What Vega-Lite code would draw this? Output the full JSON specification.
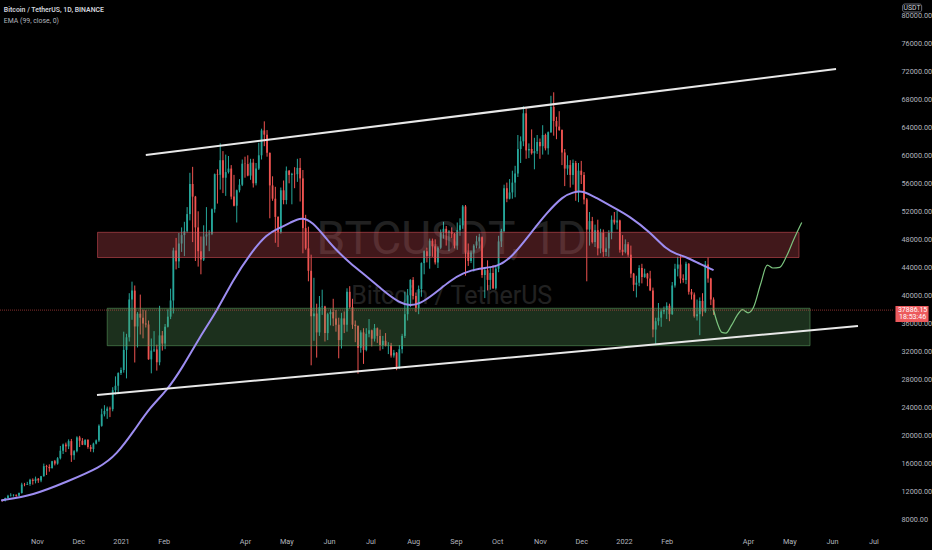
{
"$schema": "https://vega.github.io/schema/vega-lite/v6.json",
"width": 893, "height": 528,
"autosize": {"type": "none"},
"padding": {"left": 0, "top": 0, "right": 39, "bottom": 22},
"background": "#000000",
"config": {"view": {"stroke": null}, "font": "Roboto, 'DejaVu Sans', sans-serif",
 "axis": {"grid": false, "ticks": false, "domain": false, "labelColor": "#b2b5be", "labelFontSize": 7.3, "labelOverlap": false}},
"datasets": {
"one": [{"k": 1}],
"candles": [
{"t":"2020-10-07","o":10800,"h":10830,"l":10530,"c":10670},
{"t":"2020-10-09","o":10670,"h":11100,"l":10550,"c":11060},
{"t":"2020-10-11","o":11060,"h":11500,"l":11050,"c":11380},
{"t":"2020-10-13","o":11380,"h":11720,"l":11250,"c":11430},
{"t":"2020-10-15","o":11430,"h":11570,"l":11250,"c":11500},
{"t":"2020-10-17","o":11500,"h":11540,"l":11220,"c":11360},
{"t":"2020-10-19","o":11360,"h":11820,"l":11340,"c":11750},
{"t":"2020-10-21","o":11750,"h":13220,"l":11680,"c":12970},
{"t":"2020-10-23","o":12970,"h":13200,"l":12720,"c":12930},
{"t":"2020-10-25","o":12930,"h":13350,"l":12900,"c":13030},
{"t":"2020-10-27","o":13030,"h":13790,"l":12780,"c":13650},
{"t":"2020-10-29","o":13650,"h":13850,"l":12950,"c":13460},
{"t":"2020-10-31","o":13460,"h":14100,"l":13130,"c":13800},
{"t":"2020-11-02","o":13800,"h":13900,"l":13200,"c":13560},
{"t":"2020-11-04","o":13560,"h":14200,"l":13300,"c":14150},
{"t":"2020-11-06","o":14150,"h":15960,"l":14100,"c":15590},
{"t":"2020-11-08","o":15590,"h":15780,"l":14330,"c":15480},
{"t":"2020-11-10","o":15480,"h":15850,"l":14800,"c":15300},
{"t":"2020-11-12","o":15300,"h":16350,"l":15280,"c":16300},
{"t":"2020-11-14","o":16300,"h":16480,"l":15700,"c":15960},
{"t":"2020-11-16","o":15960,"h":16880,"l":15800,"c":16720},
{"t":"2020-11-18","o":16720,"h":18480,"l":16550,"c":17800},
{"t":"2020-11-20","o":17800,"h":18820,"l":17330,"c":18680},
{"t":"2020-11-22","o":18680,"h":18960,"l":17600,"c":18420},
{"t":"2020-11-24","o":18420,"h":19420,"l":18030,"c":19170},
{"t":"2020-11-26","o":19170,"h":19480,"l":16200,"c":17150},
{"t":"2020-11-28","o":17150,"h":17880,"l":16500,"c":17730},
{"t":"2020-11-30","o":17730,"h":19860,"l":17560,"c":19700},
{"t":"2020-12-02","o":19700,"h":19920,"l":18330,"c":19220},
{"t":"2020-12-04","o":19220,"h":19600,"l":18600,"c":18650},
{"t":"2020-12-06","o":18650,"h":19420,"l":18580,"c":19360},
{"t":"2020-12-08","o":19360,"h":19420,"l":18080,"c":18320},
{"t":"2020-12-10","o":18320,"h":18630,"l":17650,"c":18040},
{"t":"2020-12-12","o":18040,"h":18950,"l":17570,"c":18810},
{"t":"2020-12-14","o":18810,"h":19410,"l":18700,"c":19270},
{"t":"2020-12-16","o":19270,"h":21560,"l":19050,"c":21350},
{"t":"2020-12-18","o":21350,"h":23800,"l":21230,"c":23000},
{"t":"2020-12-20","o":23000,"h":24300,"l":22700,"c":23480},
{"t":"2020-12-22","o":23480,"h":24100,"l":22350,"c":23820},
{"t":"2020-12-24","o":23820,"h":24100,"l":22600,"c":23730},
{"t":"2020-12-26","o":23730,"h":26870,"l":23430,"c":26440},
{"t":"2020-12-28","o":26440,"h":28420,"l":25820,"c":27080},
{"t":"2020-12-30","o":27080,"h":29000,"l":25880,"c":28890},
{"t":"2021-01-01","o":28890,"h":29680,"l":28620,"c":29330},
{"t":"2021-01-03","o":29330,"h":34800,"l":28950,"c":32200},
{"t":"2021-01-05","o":32200,"h":34500,"l":28130,"c":34000},
{"t":"2021-01-07","o":34000,"h":40300,"l":33400,"c":39400},
{"t":"2021-01-09","o":39400,"h":41950,"l":36500,"c":40670},
{"t":"2021-01-11","o":40670,"h":41400,"l":30400,"c":35550},
{"t":"2021-01-13","o":35550,"h":37600,"l":32550,"c":37370},
{"t":"2021-01-15","o":37370,"h":40100,"l":34400,"c":36800},
{"t":"2021-01-17","o":36800,"h":37950,"l":33850,"c":35980},
{"t":"2021-01-19","o":35980,"h":37850,"l":35400,"c":35830},
{"t":"2021-01-21","o":35830,"h":36400,"l":30800,"c":30850},
{"t":"2021-01-23","o":30850,"h":33830,"l":28850,"c":32100},
{"t":"2021-01-25","o":32100,"h":34880,"l":31900,"c":32270},
{"t":"2021-01-27","o":32270,"h":32950,"l":29240,"c":30430},
{"t":"2021-01-29","o":30430,"h":38500,"l":30000,"c":34270},
{"t":"2021-01-31","o":34270,"h":34900,"l":32100,"c":33110},
{"t":"2021-02-02","o":33110,"h":35900,"l":32300,"c":35500},
{"t":"2021-02-04","o":35500,"h":38000,"l":35400,"c":36950},
{"t":"2021-02-06","o":36950,"h":40950,"l":36600,"c":39260},
{"t":"2021-02-08","o":39260,"h":46800,"l":37400,"c":46400},
{"t":"2021-02-10","o":46400,"h":48200,"l":43700,"c":44850},
{"t":"2021-02-12","o":44850,"h":48900,"l":43900,"c":47400},
{"t":"2021-02-14","o":47400,"h":49700,"l":46200,"c":48600},
{"t":"2021-02-16","o":48600,"h":50500,"l":45600,"c":49150},
{"t":"2021-02-18","o":49150,"h":52600,"l":48950,"c":51600},
{"t":"2021-02-20","o":51600,"h":57500,"l":50700,"c":55900},
{"t":"2021-02-22","o":55900,"h":58350,"l":47600,"c":54100},
{"t":"2021-02-24","o":54100,"h":54200,"l":44900,"c":49700},
{"t":"2021-02-26","o":49700,"h":52000,"l":44100,"c":46300},
{"t":"2021-02-28","o":46300,"h":48400,"l":43000,"c":45100},
{"t":"2021-03-02","o":45100,"h":50000,"l":44900,"c":48400},
{"t":"2021-03-04","o":48400,"h":52600,"l":47100,"c":48700},
{"t":"2021-03-06","o":48700,"h":49300,"l":46300,"c":48800},
{"t":"2021-03-08","o":48800,"h":52400,"l":48600,"c":52300},
{"t":"2021-03-10","o":52300,"h":57400,"l":51800,"c":57300},
{"t":"2021-03-12","o":57300,"h":58000,"l":53100,"c":57220},
{"t":"2021-03-14","o":57220,"h":61700,"l":55100,"c":59300},
{"t":"2021-03-16","o":59300,"h":60600,"l":54600,"c":56800},
{"t":"2021-03-18","o":56800,"h":60100,"l":54200,"c":57600},
{"t":"2021-03-20","o":57600,"h":59900,"l":57400,"c":58100},
{"t":"2021-03-22","o":58100,"h":58600,"l":53700,"c":54100},
{"t":"2021-03-24","o":54100,"h":57200,"l":52700,"c":52800},
{"t":"2021-03-26","o":52800,"h":55100,"l":50400,"c":55000},
{"t":"2021-03-28","o":55000,"h":56600,"l":54700,"c":55800},
{"t":"2021-03-30","o":55800,"h":59400,"l":55600,"c":58800},
{"t":"2021-04-01","o":58800,"h":59800,"l":56800,"c":58750},
{"t":"2021-04-03","o":58750,"h":60000,"l":57000,"c":57100},
{"t":"2021-04-05","o":57100,"h":59500,"l":56500,"c":58950},
{"t":"2021-04-07","o":58950,"h":59500,"l":55400,"c":56000},
{"t":"2021-04-09","o":56000,"h":58900,"l":55700,"c":58100},
{"t":"2021-04-11","o":58100,"h":61800,"l":57900,"c":60000},
{"t":"2021-04-13","o":60000,"h":63800,"l":59400,"c":63550},
{"t":"2021-04-15","o":63550,"h":64850,"l":61300,"c":62950},
{"t":"2021-04-17","o":62950,"h":63600,"l":59800,"c":60350},
{"t":"2021-04-19","o":60350,"h":60400,"l":51000,"c":55700},
{"t":"2021-04-21","o":55700,"h":57000,"l":53500,"c":53800},
{"t":"2021-04-23","o":53800,"h":55500,"l":47500,"c":51200},
{"t":"2021-04-25","o":51200,"h":51300,"l":46900,"c":49000},
{"t":"2021-04-27","o":49000,"h":55400,"l":48800,"c":55000},
{"t":"2021-04-29","o":55000,"h":56400,"l":53000,"c":53600},
{"t":"2021-05-01","o":53600,"h":58400,"l":53000,"c":57800},
{"t":"2021-05-03","o":57800,"h":57900,"l":56000,"c":57200},
{"t":"2021-05-05","o":57200,"h":57500,"l":53000,"c":57350},
{"t":"2021-05-07","o":57350,"h":58300,"l":55300,"c":57300},
{"t":"2021-05-09","o":57300,"h":59500,"l":56200,"c":58200},
{"t":"2021-05-11","o":58200,"h":59600,"l":53400,"c":56700},
{"t":"2021-05-13","o":56700,"h":57900,"l":46000,"c":49600},
{"t":"2021-05-15","o":49600,"h":51500,"l":46500,"c":46700},
{"t":"2021-05-17","o":46700,"h":49800,"l":42000,"c":43500},
{"t":"2021-05-19","o":43500,"h":45800,"l":30000,"c":37000},
{"t":"2021-05-21","o":37000,"h":42500,"l":33500,"c":37400},
{"t":"2021-05-23","o":37400,"h":38800,"l":31100,"c":34700},
{"t":"2021-05-25","o":34700,"h":39900,"l":34200,"c":38300},
{"t":"2021-05-27","o":38300,"h":40800,"l":37200,"c":38400},
{"t":"2021-05-29","o":38400,"h":38500,"l":33400,"c":34600},
{"t":"2021-05-31","o":34600,"h":37500,"l":33600,"c":37300},
{"t":"2021-06-02","o":37300,"h":38000,"l":35700,"c":37600},
{"t":"2021-06-04","o":37600,"h":39500,"l":35600,"c":36700},
{"t":"2021-06-06","o":36700,"h":37900,"l":34800,"c":35800},
{"t":"2021-06-08","o":35800,"h":36800,"l":31000,"c":33600},
{"t":"2021-06-10","o":33600,"h":37500,"l":32400,"c":36700},
{"t":"2021-06-12","o":36700,"h":37700,"l":34600,"c":35800},
{"t":"2021-06-14","o":35800,"h":41000,"l":34800,"c":40500},
{"t":"2021-06-16","o":40500,"h":41300,"l":38100,"c":38300},
{"t":"2021-06-18","o":38300,"h":39500,"l":35200,"c":35800},
{"t":"2021-06-20","o":35800,"h":36400,"l":33300,"c":35600},
{"t":"2021-06-22","o":35600,"h":35700,"l":28800,"c":32500},
{"t":"2021-06-24","o":32500,"h":35000,"l":31800,"c":34700},
{"t":"2021-06-26","o":34700,"h":35300,"l":30200,"c":32200},
{"t":"2021-06-28","o":32200,"h":35300,"l":32000,"c":34500},
{"t":"2021-06-30","o":34500,"h":36600,"l":34000,"c":35000},
{"t":"2021-07-02","o":35000,"h":35100,"l":32700,"c":33800},
{"t":"2021-07-04","o":33800,"h":35900,"l":33400,"c":35300},
{"t":"2021-07-06","o":35300,"h":35400,"l":33200,"c":34200},
{"t":"2021-07-08","o":34200,"h":35100,"l":32100,"c":32900},
{"t":"2021-07-10","o":32900,"h":34200,"l":32300,"c":33500},
{"t":"2021-07-12","o":33500,"h":34600,"l":32700,"c":32800},
{"t":"2021-07-14","o":32800,"h":33300,"l":31600,"c":32850},
{"t":"2021-07-16","o":32850,"h":33200,"l":31100,"c":31400},
{"t":"2021-07-18","o":31400,"h":32200,"l":31100,"c":31800},
{"t":"2021-07-20","o":31800,"h":31900,"l":29300,"c":29800},
{"t":"2021-07-22","o":29800,"h":32900,"l":29500,"c":32300},
{"t":"2021-07-24","o":32300,"h":34500,"l":31700,"c":34200},
{"t":"2021-07-26","o":34200,"h":40500,"l":33900,"c":37300},
{"t":"2021-07-28","o":37300,"h":40900,"l":36400,"c":40000},
{"t":"2021-07-30","o":40000,"h":42300,"l":38300,"c":42200},
{"t":"2021-08-01","o":42200,"h":42600,"l":39400,"c":39900},
{"t":"2021-08-03","o":39900,"h":40400,"l":37600,"c":38200},
{"t":"2021-08-05","o":38200,"h":41400,"l":37300,"c":40900},
{"t":"2021-08-07","o":40900,"h":44700,"l":39800,"c":44600},
{"t":"2021-08-09","o":44600,"h":46400,"l":43000,"c":46300},
{"t":"2021-08-11","o":46300,"h":46800,"l":44700,"c":45600},
{"t":"2021-08-13","o":45600,"h":48100,"l":43800,"c":47800},
{"t":"2021-08-15","o":47800,"h":48100,"l":45500,"c":47000},
{"t":"2021-08-17","o":47000,"h":48000,"l":44400,"c":44700},
{"t":"2021-08-19","o":44700,"h":47000,"l":43900,"c":46800},
{"t":"2021-08-21","o":46800,"h":49400,"l":46600,"c":49000},
{"t":"2021-08-23","o":49000,"h":50500,"l":48100,"c":49500},
{"t":"2021-08-25","o":49500,"h":49900,"l":47100,"c":48900},
{"t":"2021-08-27","o":48900,"h":49300,"l":46300,"c":49100},
{"t":"2021-08-29","o":49100,"h":49700,"l":48200,"c":48800},
{"t":"2021-08-31","o":48800,"h":48900,"l":46700,"c":47100},
{"t":"2021-09-02","o":47100,"h":50400,"l":46500,"c":49300},
{"t":"2021-09-04","o":49300,"h":51000,"l":48500,"c":50000},
{"t":"2021-09-06","o":50000,"h":52900,"l":49500,"c":52700},
{"t":"2021-09-08","o":52700,"h":52900,"l":42800,"c":46100},
{"t":"2021-09-10","o":46100,"h":47400,"l":44200,"c":44900},
{"t":"2021-09-12","o":44900,"h":46400,"l":44600,"c":46100},
{"t":"2021-09-14","o":46100,"h":47300,"l":43400,"c":47100},
{"t":"2021-09-16","o":47100,"h":48500,"l":46700,"c":47700},
{"t":"2021-09-18","o":47700,"h":48800,"l":46700,"c":48300},
{"t":"2021-09-20","o":48300,"h":48400,"l":42500,"c":42900},
{"t":"2021-09-22","o":42900,"h":44000,"l":39600,"c":43600},
{"t":"2021-09-24","o":43600,"h":45000,"l":40700,"c":42200},
{"t":"2021-09-26","o":42200,"h":44000,"l":40800,"c":43200},
{"t":"2021-09-28","o":43200,"h":44300,"l":40900,"c":41000},
{"t":"2021-09-30","o":41000,"h":44100,"l":40800,"c":43800},
{"t":"2021-10-02","o":43800,"h":48500,"l":43300,"c":47700},
{"t":"2021-10-04","o":47700,"h":49500,"l":46900,"c":49200},
{"t":"2021-10-06","o":49200,"h":55800,"l":49000,"c":55300},
{"t":"2021-10-08","o":55300,"h":56100,"l":53300,"c":53800},
{"t":"2021-10-10","o":53800,"h":56600,"l":53700,"c":54700},
{"t":"2021-10-12","o":54700,"h":57800,"l":53800,"c":56100},
{"t":"2021-10-14","o":56100,"h":58500,"l":54000,"c":57400},
{"t":"2021-10-16","o":57400,"h":62900,"l":56900,"c":60900},
{"t":"2021-10-18","o":60900,"h":62700,"l":58900,"c":62000},
{"t":"2021-10-20","o":62000,"h":67000,"l":61300,"c":66000},
{"t":"2021-10-22","o":66000,"h":66700,"l":59500,"c":60700},
{"t":"2021-10-24","o":60700,"h":61700,"l":59600,"c":60900},
{"t":"2021-10-26","o":60900,"h":63700,"l":60100,"c":60300},
{"t":"2021-10-28","o":60300,"h":62500,"l":58000,"c":60600},
{"t":"2021-10-30","o":60600,"h":62900,"l":60200,"c":61900},
{"t":"2021-11-01","o":61900,"h":62400,"l":59500,"c":61300},
{"t":"2021-11-03","o":61300,"h":64300,"l":60100,"c":62900},
{"t":"2021-11-05","o":62900,"h":63100,"l":60700,"c":61000},
{"t":"2021-11-07","o":61000,"h":63400,"l":60100,"c":63300},
{"t":"2021-11-09","o":63300,"h":68500,"l":63200,"c":66900},
{"t":"2021-11-11","o":66900,"h":69000,"l":62800,"c":64900},
{"t":"2021-11-13","o":64900,"h":65500,"l":62300,"c":64100},
{"t":"2021-11-15","o":64100,"h":66300,"l":63500,"c":63600},
{"t":"2021-11-17","o":63600,"h":63700,"l":58600,"c":60400},
{"t":"2021-11-19","o":60400,"h":60900,"l":55600,"c":58100},
{"t":"2021-11-21","o":58100,"h":60000,"l":57200,"c":58600},
{"t":"2021-11-23","o":58600,"h":59300,"l":55400,"c":57200},
{"t":"2021-11-25","o":57200,"h":59400,"l":55800,"c":58900},
{"t":"2021-11-27","o":58900,"h":59200,"l":53500,"c":54700},
{"t":"2021-11-29","o":54700,"h":58900,"l":53300,"c":57800},
{"t":"2021-12-01","o":57800,"h":59200,"l":55900,"c":57200},
{"t":"2021-12-03","o":57200,"h":57600,"l":53000,"c":53700},
{"t":"2021-12-05","o":53700,"h":53900,"l":42000,"c":49400},
{"t":"2021-12-07","o":49400,"h":51900,"l":47100,"c":50600},
{"t":"2021-12-09","o":50600,"h":51200,"l":47400,"c":47600},
{"t":"2021-12-11","o":47600,"h":50100,"l":46900,"c":49300},
{"t":"2021-12-13","o":49300,"h":50800,"l":45700,"c":46700},
{"t":"2021-12-15","o":46700,"h":49500,"l":46000,"c":48900},
{"t":"2021-12-17","o":48900,"h":49400,"l":45500,"c":46200},
{"t":"2021-12-19","o":46200,"h":48300,"l":45600,"c":46700},
{"t":"2021-12-21","o":46700,"h":49300,"l":45500,"c":48900},
{"t":"2021-12-23","o":48900,"h":51400,"l":48000,"c":50800},
{"t":"2021-12-25","o":50800,"h":51900,"l":50100,"c":50400},
{"t":"2021-12-27","o":50400,"h":52100,"l":49400,"c":50700},
{"t":"2021-12-29","o":50700,"h":50800,"l":46100,"c":46500},
{"t":"2021-12-31","o":46500,"h":48600,"l":45700,"c":46200},
{"t":"2022-01-02","o":46200,"h":47990,"l":46000,"c":47300},
{"t":"2022-01-04","o":47300,"h":47600,"l":45500,"c":45800},
{"t":"2022-01-06","o":45800,"h":47100,"l":42500,"c":43100},
{"t":"2022-01-08","o":43100,"h":43200,"l":40600,"c":41500},
{"t":"2022-01-10","o":41500,"h":42800,"l":39700,"c":41800},
{"t":"2022-01-12","o":41800,"h":44300,"l":41300,"c":43900},
{"t":"2022-01-14","o":43900,"h":44500,"l":41700,"c":42600},
{"t":"2022-01-16","o":42600,"h":43800,"l":42500,"c":43100},
{"t":"2022-01-18","o":43100,"h":43200,"l":41300,"c":42400},
{"t":"2022-01-20","o":42400,"h":43500,"l":40600,"c":40700},
{"t":"2022-01-22","o":40700,"h":41100,"l":34000,"c":35100},
{"t":"2022-01-24","o":35100,"h":36800,"l":32900,"c":36300},
{"t":"2022-01-26","o":36300,"h":38900,"l":35700,"c":36800},
{"t":"2022-01-28","o":36800,"h":38000,"l":35500,"c":37700},
{"t":"2022-01-30","o":37700,"h":38400,"l":37300,"c":37900},
{"t":"2022-02-01","o":37900,"h":39000,"l":36600,"c":38500},
{"t":"2022-02-03","o":38500,"h":38800,"l":36300,"c":37300},
{"t":"2022-02-05","o":37300,"h":41900,"l":37200,"c":41400},
{"t":"2022-02-07","o":41400,"h":44500,"l":41100,"c":43800},
{"t":"2022-02-09","o":43800,"h":45500,"l":42700,"c":44400},
{"t":"2022-02-11","o":44400,"h":45800,"l":41700,"c":42400},
{"t":"2022-02-13","o":42400,"h":43000,"l":41800,"c":42200},
{"t":"2022-02-15","o":42200,"h":44800,"l":41600,"c":44500},
{"t":"2022-02-17","o":44500,"h":44600,"l":40100,"c":40500},
{"t":"2022-02-19","o":40500,"h":40900,"l":39400,"c":40100},
{"t":"2022-02-21","o":40100,"h":40400,"l":36800,"c":37000},
{"t":"2022-02-23","o":37000,"h":39400,"l":36400,"c":37300},
{"t":"2022-02-25","o":37300,"h":39700,"l":34300,"c":39200},
{"t":"2022-02-27","o":39200,"h":40300,"l":37000,"c":37700},
{"t":"2022-03-01","o":37700,"h":44900,"l":37500,"c":44400},
{"t":"2022-03-03","o":44400,"h":45400,"l":41800,"c":42400},
{"t":"2022-03-05","o":42400,"h":42500,"l":38600,"c":39400},
{"t":"2022-03-07","o":39400,"h":39700,"l":37200,"c":37886.15}
],
"ema": [
{"t":"2020-10-06","v":10700},{"t":"2020-10-29","v":11400},{"t":"2020-11-23","v":13400},{"t":"2020-12-17","v":15400},
{"t":"2020-12-29","v":17300},{"t":"2021-01-10","v":20500},{"t":"2021-01-22","v":24000},{"t":"2021-02-03","v":26300},
{"t":"2021-02-15","v":29800},{"t":"2021-02-27","v":34000},{"t":"2021-03-12","v":37900},{"t":"2021-03-23","v":42100},
{"t":"2021-04-05","v":46000},{"t":"2021-04-17","v":48800},{"t":"2021-04-26","v":49600},{"t":"2021-05-04","v":50400},
{"t":"2021-05-12","v":51200},{"t":"2021-05-20","v":50500},{"t":"2021-05-30","v":48100},{"t":"2021-06-04","v":46900},
{"t":"2021-06-16","v":44600},{"t":"2021-06-29","v":42600},{"t":"2021-07-10","v":40700},{"t":"2021-07-22","v":38900},
{"t":"2021-07-30","v":38500},{"t":"2021-08-06","v":38800},{"t":"2021-08-15","v":40000},{"t":"2021-08-28","v":42100},
{"t":"2021-09-06","v":43200},{"t":"2021-09-18","v":43900},{"t":"2021-10-01","v":44000},{"t":"2021-10-12","v":45500},
{"t":"2021-10-25","v":48800},{"t":"2021-11-06","v":51800},{"t":"2021-11-18","v":54200},{"t":"2021-11-25","v":54700},
{"t":"2021-12-02","v":55000},{"t":"2021-12-12","v":53900},{"t":"2021-12-24","v":52600},{"t":"2022-01-05","v":51300},
{"t":"2022-01-20","v":49000},{"t":"2022-02-01","v":46500},{"t":"2022-02-08","v":45900},{"t":"2022-02-16","v":45400},
{"t":"2022-02-25","v":44500},{"t":"2022-03-07","v":43600}
],
"zones": [
{"z":"red","t1":"2020-12-15","t2":"2022-05-08","p1":45400,"p2":49000},
{"z":"green","t1":"2020-12-22","t2":"2022-05-16","p1":32800,"p2":38150}
],
"trend": [
{"g":"upper","t":"2021-01-19T00:00:00Z","p":60040},
{"g":"upper","t":"2022-06-03T21:00:00Z","p":72330},
{"g":"lower","t":"2020-12-14T14:00:00Z","p":25760},
{"g":"lower","t":"2022-06-19T19:00:00Z","p":35610}
],
"path": [
{"t":"2022-03-07","p":37900},{"t":"2022-03-10","p":35900},{"t":"2022-03-13","p":34700},{"t":"2022-03-16","p":34600},
{"t":"2022-03-20","p":35700},{"t":"2022-03-24","p":37100},{"t":"2022-03-28","p":37950},{"t":"2022-04-01","p":37500},
{"t":"2022-04-05","p":38300},{"t":"2022-04-10","p":41500},{"t":"2022-04-15","p":44300},{"t":"2022-04-19","p":43900},
{"t":"2022-04-24","p":44000},{"t":"2022-04-29","p":45600},{"t":"2022-05-04","p":47900},{"t":"2022-05-10","p":50400}
]
},
"layer": [
{"data": {"name": "candles"},
 "mark": {"type": "rule", "strokeWidth": 1},
 "encoding": {
  "x": {"field": "t", "type": "temporal", "title": null,
   "scale": {"type": "utc", "nice": false, "padding": 0, "domain": [{"year": 2020, "month": 10, "date": 5, "hours": 5, "utc": true}, {"year": 2022, "month": 7, "date": 15, "hours": 5, "utc": true}]},
   "axis": {"orient": "bottom", "domain": false, "ticks": false, "grid": false, "title": null, "tickCount": 40,
    "values": [{"year":2020,"month":11,"date":1,"utc":true},{"year":2020,"month":12,"date":1,"utc":true},{"year":2021,"month":1,"date":1,"utc":true},{"year":2021,"month":2,"date":1,"utc":true},{"year":2021,"month":4,"date":1,"utc":true},{"year":2021,"month":5,"date":1,"utc":true},{"year":2021,"month":6,"date":1,"utc":true},{"year":2021,"month":7,"date":1,"utc":true},{"year":2021,"month":8,"date":1,"utc":true},{"year":2021,"month":9,"date":1,"utc":true},{"year":2021,"month":10,"date":1,"utc":true},{"year":2021,"month":11,"date":1,"utc":true},{"year":2021,"month":12,"date":1,"utc":true},{"year":2022,"month":1,"date":1,"utc":true},{"year":2022,"month":2,"date":1,"utc":true},{"year":2022,"month":4,"date":1,"utc":true},{"year":2022,"month":5,"date":1,"utc":true},{"year":2022,"month":6,"date":1,"utc":true},{"year":2022,"month":7,"date":1,"utc":true}],
    "labelExpr": "utcmonth(datum.value) == 0 ? utcFormat(datum.value, '%Y') : utcFormat(datum.value, '%b')",
    "labelColor": "#b2b5be", "labelFontSize": 7.3, "labelPadding": 9, "labelBaseline": "top", "labelOverlap": false, "labelFlush": false}},
  "y": {"field": "l", "type": "quantitative", "title": null,
   "scale": {"domain": [6757, 82186], "nice": false, "zero": false, "padding": 0},
   "axis": {"orient": "right", "domain": false, "ticks": false, "grid": false, "title": null, "tickCount": 40,
    "values": [8000,12000,16000,20000,24000,28000,32000,36000,40000,44000,48000,52000,56000,60000,64000,68000,72000,76000,80000],
    "format": ".2f", "labelAlign": "left", "labelPadding": 8, "labelColor": "#b2b5be", "labelFontSize": 7.3, "labelOverlap": false}},
  "y2": {"field": "h"},
  "color": {"condition": {"test": "datum.c >= datum.o", "value": "#26a69a"}, "value": "#ef5350"}}},
{"data": {"name": "one"},
 "mark": {"type": "text", "align": "center", "baseline": "middle", "fontSize": 46, "color": "#ffffff", "opacity": 0.13},
 "encoding": {"x": {"datum": {"year": 2021, "month": 8, "date": 29, "utc": true}, "type": "temporal"},
  "y": {"datum": 47900, "type": "quantitative"}, "text": {"value": "BTCUSDT, 1D"}}},
{"data": {"name": "one"},
 "mark": {"type": "text", "align": "center", "baseline": "middle", "fontSize": 25, "color": "#ffffff", "opacity": 0.13},
 "encoding": {"x": {"datum": {"year": 2021, "month": 8, "date": 29, "utc": true}, "type": "temporal"},
  "y": {"datum": 39900, "type": "quantitative"}, "text": {"value": "Bitcoin / TetherUS"}}},
{"data": {"name": "candles"},
 "mark": {"type": "bar", "size": 1.8},
 "encoding": {
  "x": {"field": "t", "type": "temporal"},
  "y": {"field": "o", "type": "quantitative"},
  "y2": {"field": "c"},
  "color": {"condition": {"test": "datum.c >= datum.o", "value": "#26a69a"}, "value": "#ef5350"}}},
{"data": {"name": "zones"},
 "mark": {"type": "rect", "fillOpacity": 0.3, "strokeOpacity": 0.55, "strokeWidth": 1},
 "encoding": {
  "x": {"field": "t1", "type": "temporal"}, "x2": {"field": "t2"},
  "y": {"field": "p1", "type": "quantitative"}, "y2": {"field": "p2"},
  "color": {"field": "z", "type": "nominal", "scale": {"domain": ["red", "green"], "range": ["#d8505a", "#5d9e60"]}, "legend": null},
  "stroke": {"field": "z", "type": "nominal", "scale": {"domain": ["red", "green"], "range": ["#d8505a", "#5d9e60"]}, "legend": null}}},
{"data": {"name": "ema"},
 "mark": {"type": "line", "color": "#9d8df1", "strokeWidth": 2, "interpolate": "basis"},
 "encoding": {"x": {"field": "t", "type": "temporal"}, "y": {"field": "v", "type": "quantitative"}}},
{"data": {"name": "trend"},
 "mark": {"type": "line", "color": "#e8e8e8", "strokeWidth": 2},
 "encoding": {"x": {"field": "t", "type": "temporal"}, "y": {"field": "p", "type": "quantitative"}, "detail": {"field": "g"}}},
{"data": {"name": "path"},
 "mark": {"type": "line", "color": "#7cc47f", "strokeWidth": 1.2, "interpolate": "monotone"},
 "encoding": {"x": {"field": "t", "type": "temporal"}, "y": {"field": "p", "type": "quantitative"}}},
{"data": {"name": "one"},
 "mark": {"type": "rule", "color": "#ef5350", "strokeWidth": 1, "opacity": 0.55, "strokeDash": [1, 1]},
 "encoding": {"y": {"datum": 37886.15, "type": "quantitative"}}},
{"data": {"name": "one"},
 "mark": {"type": "rect", "color": "#ec5a5d"},
 "encoding": {"x": {"datum": {"year": 2022, "month": 7, "date": 17, "utc": true}, "type": "temporal"},
  "x2": {"datum": {"year": 2022, "month": 8, "date": 10, "utc": true}},
  "y": {"datum": 38470, "type": "quantitative"}, "y2": {"datum": 36200}}},
{"data": {"name": "one"},
 "mark": {"type": "text", "align": "center", "baseline": "middle", "fontSize": 7, "color": "#ffffff"},
 "encoding": {"x": {"datum": {"year": 2022, "month": 7, "date": 29, "hours": 10, "utc": true}, "type": "temporal"},
  "y": {"datum": 37950, "type": "quantitative"}, "text": {"value": "37886.15"}}},
{"data": {"name": "one"},
 "mark": {"type": "text", "align": "center", "baseline": "middle", "fontSize": 7, "color": "#ffffff"},
 "encoding": {"x": {"datum": {"year": 2022, "month": 7, "date": 29, "hours": 10, "utc": true}, "type": "temporal"},
  "y": {"datum": 36930, "type": "quantitative"}, "text": {"value": "18:53:46"}}},
{"data": {"name": "one"},
 "mark": {"type": "rect", "fill": "#000000", "stroke": "#6a6d78", "strokeWidth": 1, "cornerRadius": 2},
 "encoding": {"x": {"datum": {"year": 2022, "month": 7, "date": 22, "hours": 5, "utc": true}, "type": "temporal"},
  "x2": {"datum": {"year": 2022, "month": 8, "date": 5, "utc": true}},
  "y": {"datum": 81614, "type": "quantitative"}, "y2": {"datum": 80471}}},
{"data": {"name": "one"},
 "mark": {"type": "text", "align": "center", "baseline": "middle", "fontSize": 6.8, "color": "#d1d4dc"},
 "encoding": {"x": {"datum": {"year": 2022, "month": 7, "date": 29, "utc": true}, "type": "temporal"},
  "y": {"datum": 81040, "type": "quantitative"}, "text": {"value": "USDT"}}},
{"data": {"name": "one"},
 "mark": {"type": "text", "align": "left", "baseline": "middle", "fontSize": 6.9, "fontWeight": 600, "color": "#d1d4dc"},
 "encoding": {"x": {"datum": {"year": 2020, "month": 10, "date": 8, "utc": true}, "type": "temporal"},
  "y": {"datum": 80750, "type": "quantitative"}, "text": {"value": "Bitcoin / TetherUS, 1D, BINANCE"}}},
{"data": {"name": "one"},
 "mark": {"type": "text", "align": "left", "baseline": "middle", "fontSize": 6.9, "color": "#b2b5be"},
 "encoding": {"x": {"datum": {"year": 2020, "month": 10, "date": 8, "utc": true}, "type": "temporal"},
  "y": {"datum": 79150, "type": "quantitative"}, "text": {"value": "EMA (99, close, 0)"}}}
]
}
